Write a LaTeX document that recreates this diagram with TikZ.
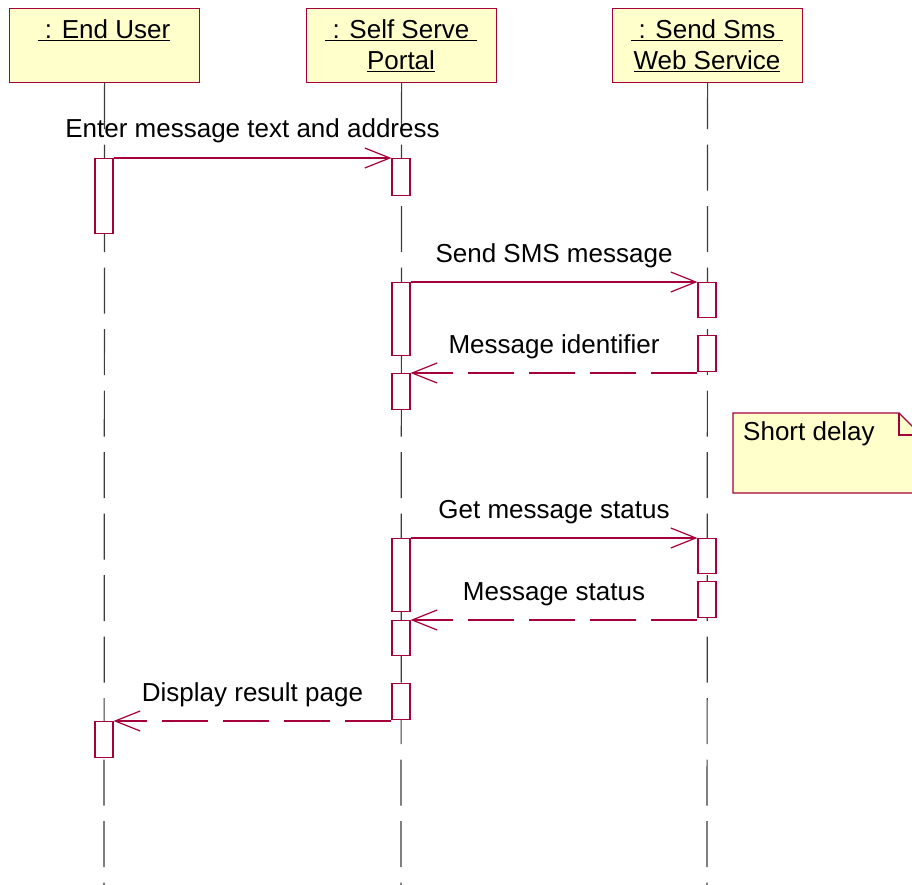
\documentclass[tikz,border=0pt]{standalone}
\usepackage{fontspec}
\setmainfont{Liberation Sans}
\usetikzlibrary{arrows.meta}
\definecolor{umlred}{RGB}{165,0,60}
\definecolor{umlyellow}{RGB}{255,255,204}
\definecolor{lifegray}{RGB}{60,60,60}
\tikzset{
 hdr/.style={draw=umlred, fill=umlyellow, line width=1.2pt, minimum width=190pt, minimum height=74pt, inner sep=0pt, anchor=north west},
 txt/.style={anchor=base, inner sep=0pt, font=\fontsize{26}{31}\selectfont},
 life/.style={draw=lifegray, line width=1.2pt, dash pattern=on 46pt off 15.5pt},
 act/.style={draw=umlred, fill=white, line width=1.2pt, minimum width=18pt, inner sep=0pt, anchor=north},
 msg/.style={draw=umlred, line width=1.2pt, -{Straight Barb[length=25pt,width=20pt]}},
 ret/.style={msg, dash pattern=on 46pt off 15pt},
 notebox/.style={draw=umlred, fill=umlyellow, line width=1.2pt},
}
\begin{document}
\begin{tikzpicture}[x=1pt,y=-1pt]
\useasboundingbox (0,0) rectangle (912,885);
\clip (0,0) rectangle (912,885);
% headers
\node[hdr] (eu) at (9,8) {};
\node[hdr] (pt) at (306,8) {};
\node[hdr] (ws) at (612,8) {};
\node[txt] (euT) at (104,39) {\underline{\ : End User}};
\node[txt] (ptT1) at (401,39) {\underline{\ : Self Serve\ }};
\node[txt] (ptT2) at (401,70) {\underline{Portal}};
\node[txt] (wsT1) at (707,39) {\underline{\ : Send Sms\ }};
\node[txt] (wsT2) at (707,70) {\underline{Web Service}};
% lifelines
\coordinate (euEnd) at (104,885);
\coordinate (ptEnd) at (401,885);
\coordinate (wsEnd) at (707,885);
\draw[life] (eu.south) -- (euEnd);
\draw[life] (pt.south) -- (ptEnd);
\draw[life] (ws.south) -- (wsEnd);
% activations
\node[act, minimum height=75pt] (eu1) at (104,158) {};
\node[act, minimum height=37pt] (p1) at (401,158) {};
\node[act, minimum height=73pt] (p2) at (401,282) {};
\node[act, minimum height=35pt] (s1) at (707,282) {};
\node[act, minimum height=36pt] (s2) at (707,335) {};
\node[act, minimum height=36pt] (p3) at (401,373) {};
\node[act, minimum height=73pt] (p4) at (401,538) {};
\node[act, minimum height=35pt] (s3) at (707,538) {};
\node[act, minimum height=36pt] (s4) at (707,581) {};
\node[act, minimum height=35pt] (p5) at (401,620) {};
\node[act, minimum height=36pt] (p6) at (401,683) {};
\node[act, minimum height=36pt] (eu2) at (104,721) {};
% messages
\draw[msg] (eu1.north east) -- (p1.north west);
\node[txt] (m1) at (252.5,138) {Enter message text and address};
\draw[msg] (p2.north east) -- (s1.north west);
\node[txt] (m2) at (554,262) {Send SMS message};
\draw[ret] (s2.west |- p3.north) -- (p3.north east);
\node[txt] (m3) at (554,353) {Message identifier};
\draw[msg] (p4.north east) -- (s3.north west);
\node[txt] (m4) at (554,518) {Get message status};
\draw[ret] (s4.west |- p5.north) -- (p5.north east);
\node[txt] (m5) at (554,600) {Message status};
\draw[ret] (p6.west |- eu2.north) -- (eu2.north east);
\node[txt] (m6) at (252.5,701) {Display result page};
% note
\path[notebox] (733,413) -- (899,413) -- (921,435) -- (921,493) -- (733,493) -- cycle;
\draw[umlred, line width=1.2pt] (899,413) -- (899,435) -- (921,435);
\node[txt, anchor=base west] (note) at (743,440) {Short delay};
\end{tikzpicture}
\end{document}
